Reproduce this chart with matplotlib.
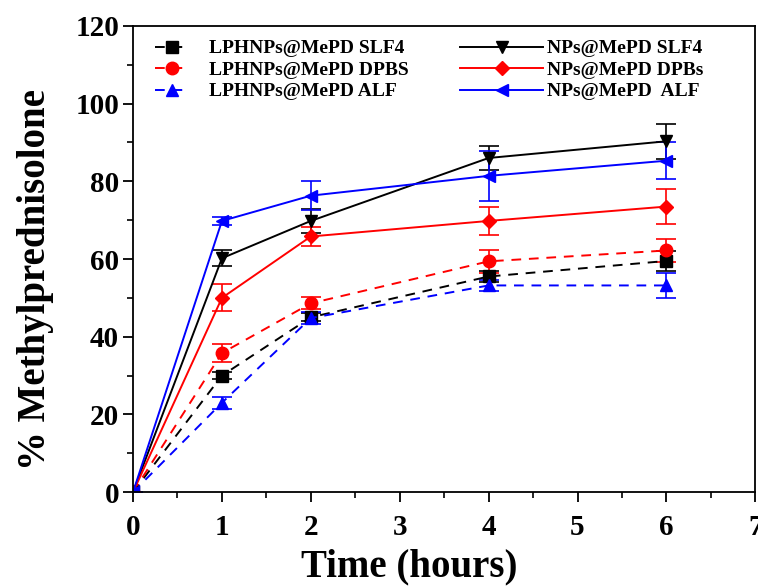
import numpy as np
import matplotlib.pyplot as plt
from matplotlib.lines import Line2D
from matplotlib.ticker import MultipleLocator

plt.rcParams['font.family'] = ['Liberation Serif', 'DejaVu Serif']
plt.rcParams['font.weight'] = 'bold'

# release data (time in hours, % methylprednisolone)
time_h = [0, 1, 2, 4, 6]

lph_slf4 = [0, 30, 45, 55.5, 59.5]
lph_slf4_err = [0, 1, 1, 1.5, 2.5]
lph_dpbs = [0, 35.8, 48.6, 59.4, 62.2]
lph_dpbs_err = [0, 2.3, 1.5, 3, 3]
lph_alf = [0, 23, 44.8, 53.2, 53.2]
lph_alf_err = [0, 1.5, 1.5, 1.5, 3.3]

np_slf4 = [0, 60.2, 69.8, 86, 90.3]
np_slf4_err = [0, 2, 3, 3, 4.5]
np_dpbs = [0, 50, 65.8, 69.8, 73.5]
np_dpbs_err = [0, 3.5, 2.5, 3.5, 4.5]
np_alf = [0, 69.8, 76.3, 81.4, 85.3]
np_alf_err = [0, 1, 3.7, 6.5, 4.7]

lph_labels = ['LPHNPs@MePD SLF4', 'LPHNPs@MePD DPBS', 'LPHNPs@MePD ALF']
np_labels = ['NPs@MePD SLF4', 'NPs@MePD DPBs', 'NPs@MePD  ALF']

fig = plt.figure(figsize=(7.58, 5.88), dpi=100)
ax = fig.add_axes([0.1755, 0.163, 0.821, 0.793])

dash = (0, (5, 4))
series = [
    (lph_slf4, lph_slf4_err, 'black', 's', dash),
    (lph_dpbs, lph_dpbs_err, 'red', 'o', dash),
    (lph_alf, lph_alf_err, 'blue', '^', dash),
    (np_slf4, np_slf4_err, 'black', 'v', '-'),
    (np_dpbs, np_dpbs_err, 'red', 'D', '-'),
    (np_alf, np_alf_err, 'blue', '<', '-'),
]
handles = []
for y, e, c, m, ls in series:
    ms = 7.5 if m == 'D' else 9
    ax.errorbar(time_h, y, yerr=e, color=c, marker=m, markersize=ms,
                linestyle=ls, linewidth=1.4, capsize=7, elinewidth=1.2,
                capthick=1.2)
    handles.append(Line2D([], [], color=c, marker=m, markersize=ms,
                          linestyle=ls, linewidth=1.4))

ax.set_xlim(0, 7)
ax.set_ylim(0, 120)
ax.xaxis.set_major_locator(MultipleLocator(1))
ax.xaxis.set_minor_locator(MultipleLocator(0.5))
ax.yaxis.set_major_locator(MultipleLocator(20))
ax.yaxis.set_minor_locator(MultipleLocator(10))
ax.tick_params(which='major', direction='out', length=7, width=1.3, labelsize=21)
ax.tick_params(axis='x', which='major', pad=9)
ax.tick_params(axis='y', which='major', pad=3)
ax.tick_params(which='minor', direction='out', length=4, width=1.2)
for s in ax.spines.values():
    s.set_linewidth(1.3)

ax.set_xlabel('Time (hours)', fontsize=28, fontweight='bold')
ax.set_ylabel('% Methylprednisolone', fontsize=28, fontweight='bold')
ax.xaxis.set_label_coords(0.444, -0.12)
ax.yaxis.set_label_coords(-0.127, 0.457)

leg1 = ax.legend(handles[:3], lph_labels, loc='upper left', frameon=False,
                 fontsize=14, bbox_to_anchor=(0.035, 0.97), borderpad=0,
                 borderaxespad=0, handlelength=1.8, labelspacing=0.2,
                 handletextpad=1.0)
ax.add_artist(leg1)
ax.legend(handles[3:], np_labels, loc='upper left', frameon=False,
          fontsize=14, bbox_to_anchor=(0.525, 0.97), borderpad=0,
          borderaxespad=0, handlelength=4.3, labelspacing=0.2,
          handletextpad=0.2)

fig.savefig('out.png', dpi=100)
